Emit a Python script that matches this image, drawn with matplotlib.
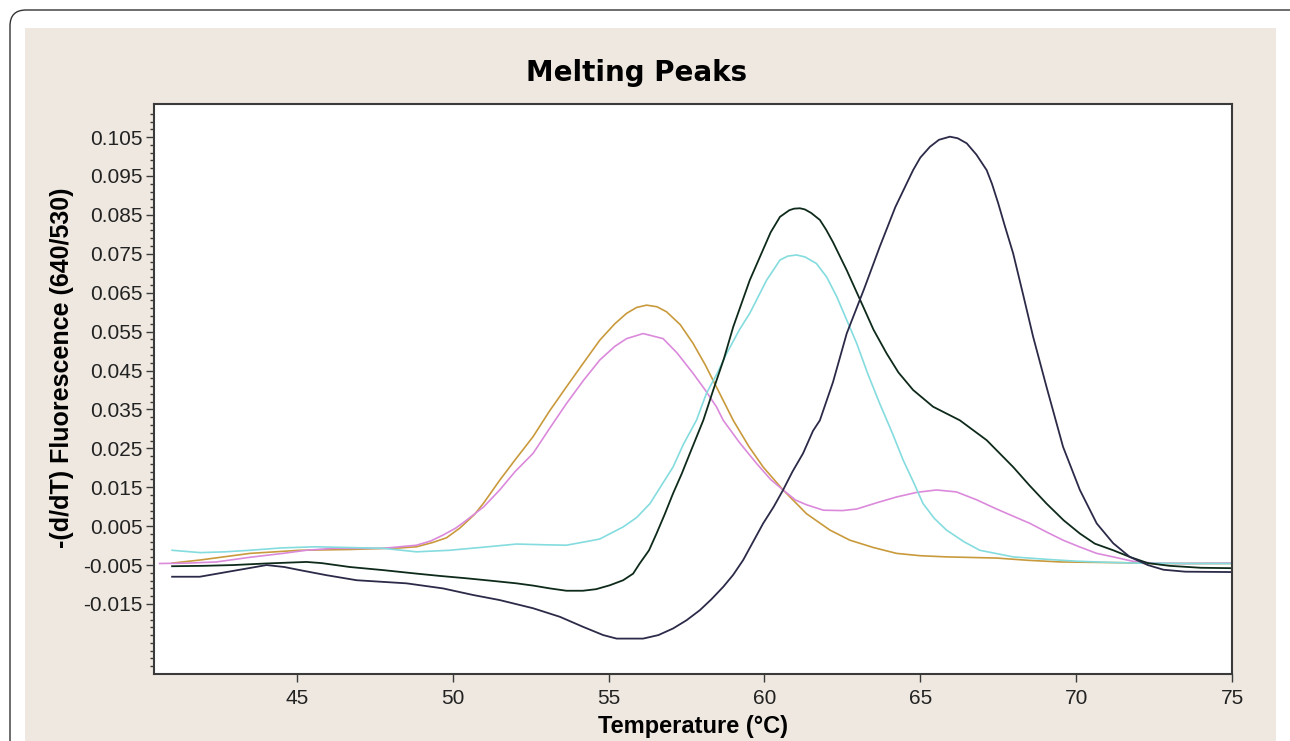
import numpy as np
import matplotlib
matplotlib.use('Agg')
import matplotlib.pyplot as plt
from matplotlib.patches import FancyBboxPatch, Rectangle
from matplotlib.ticker import FixedLocator

plt.rcParams['font.family'] = ['Liberation Sans', 'DejaVu Sans']

# melting peak curves: temperature (C) / -(d/dT) fluorescence
amber_t = [41.0, 41.9, 43.5, 45.1, 46.7, 48.3, 48.84, 49.36, 49.8, 50.23, 50.7, 51.0,
           51.51, 52.0, 52.58, 53.1, 53.65, 54.2, 54.72, 55.2, 55.58, 55.9, 56.22,
           56.55, 56.86, 57.3, 57.71, 58.1, 58.46, 59.0, 59.5, 59.96, 60.6, 61.35,
           62.1, 62.74, 63.5, 64.24, 65.0, 65.84, 67.45, 68.5, 69.5, 70.5, 71.5, 72.5, 75.0]
amber_y = [-0.0045, -0.0037, -0.0020, -0.0012, -0.0010, -0.0006, -0.0003, 0.0008, 0.0020,
           0.0045, 0.0080, 0.0110, 0.0168, 0.0220, 0.0280, 0.0345, 0.0408, 0.0470, 0.0528,
           0.0570, 0.0597, 0.0612, 0.0618, 0.0614, 0.0601, 0.0568, 0.0520, 0.0465, 0.0408,
           0.0322, 0.0255, 0.0202, 0.0143, 0.0082, 0.0040, 0.0014, -0.0005, -0.0020,
           -0.0026, -0.0029, -0.0032, -0.0038, -0.0042, -0.0043, -0.0044, -0.0046, -0.0046]

violet_t = [40.6, 41.5, 42.42, 43.5, 44.56, 45.3, 46.17, 47.77, 48.84, 49.3, 49.69, 50.1,
            50.44, 51.0, 51.51, 52.0, 52.58, 53.1, 53.65, 54.2, 54.72, 55.2, 55.58, 56.11,
            56.75, 57.2, 57.71, 58.1, 58.46, 58.68, 59.2, 59.75, 60.2, 60.6, 61.0, 61.35,
            61.89, 62.5, 62.96, 63.6, 64.24, 64.9, 65.52, 66.16, 66.8, 67.45, 68.0, 68.52,
            69.05, 69.58, 70.1, 70.66, 71.19, 71.8, 72.5, 73.5, 75.0]
violet_y = [-0.0046, -0.0045, -0.0042, -0.0030, -0.0020, -0.0012, -0.0007, -0.0007, 0.0001,
            0.0012, 0.0027, 0.0045, 0.0065, 0.0100, 0.0143, 0.0190, 0.0237, 0.0300, 0.0365,
            0.0425, 0.0477, 0.0512, 0.0532, 0.0545, 0.0532, 0.0495, 0.0443, 0.0400, 0.0357,
            0.0322, 0.0265, 0.0211, 0.0170, 0.0143, 0.0117, 0.0105, 0.0091, 0.0090, 0.0094,
            0.0110, 0.0125, 0.0137, 0.0143, 0.0138, 0.0118, 0.0094, 0.0075, 0.0057, 0.0035,
            0.0014, -0.0003, -0.0020, -0.0029, -0.0040, -0.0045, -0.0046, -0.0045]

cyan_t = [41.0, 41.9, 42.7, 43.5, 44.5, 45.6, 46.7, 47.77, 48.84, 49.9, 51.0, 52.05, 53.0,
          53.65, 54.4, 54.72, 55.47, 55.9, 56.33, 56.7, 57.07, 57.4, 57.82, 58.14, 58.5,
          58.79, 59.2, 59.53, 60.07, 60.5, 60.75, 61.03, 61.3, 61.67, 62.0, 62.32, 62.64,
          62.96, 63.3, 63.7, 64.1, 64.45, 64.8, 65.09, 65.45, 65.84, 66.4, 66.91, 67.98,
          69.0, 70.0, 71.0, 72.0, 73.5, 75.0]
cyan_y = [-0.0012, -0.0018, -0.0016, -0.0012, -0.0006, -0.0003, -0.0005, -0.0007, -0.0016,
          -0.0012, -0.0004, 0.0004, 0.0002, 0.0001, 0.0012, 0.0017, 0.0048, 0.0072, 0.0108,
          0.0155, 0.0202, 0.0260, 0.0322, 0.0391, 0.0445, 0.0494, 0.0555, 0.0597, 0.0682,
          0.0734, 0.0744, 0.0747, 0.0742, 0.0725, 0.0690, 0.0640, 0.0580, 0.0520, 0.0445,
          0.0365, 0.0290, 0.0220, 0.0160, 0.0108, 0.0070, 0.0040, 0.0010, -0.0012, -0.0029,
          -0.0035, -0.0040, -0.0043, -0.0045, -0.0046, -0.0046]

green_t = [41.0, 42.0, 42.96, 44.0, 45.31, 45.8, 46.7, 47.77, 48.84, 49.6, 50.44, 51.2,
           52.05, 52.6, 53.12, 53.65, 54.18, 54.6, 55.04, 55.47, 55.79, 56.0, 56.3, 56.54,
           56.8, 57.07, 57.35, 57.61, 58.04, 58.36, 58.7, 59.0, 59.3, 59.53, 59.9, 60.2,
           60.5, 60.8, 60.95, 61.14, 61.3, 61.5, 61.78, 61.98, 62.2, 62.64, 63.17, 63.5,
           63.92, 64.3, 64.77, 65.41, 66.27, 67.13, 67.98, 68.5, 69.05, 69.6, 70.12, 70.6,
           71.19, 71.72, 72.3, 73.0, 74.0, 75.0]
green_y = [-0.0053, -0.0052, -0.0050, -0.0046, -0.0042, -0.0045, -0.0055, -0.0063, -0.0072,
           -0.0078, -0.0084, -0.0090, -0.0097, -0.0103, -0.0110, -0.0116, -0.0116, -0.0112,
           -0.0102, -0.0089, -0.0072, -0.0046, -0.0012, 0.0031, 0.0080, 0.0134, 0.0185,
           0.0237, 0.0322, 0.0400, 0.0480, 0.0562, 0.0630, 0.0682, 0.0750, 0.0805, 0.0845,
           0.0862, 0.0866, 0.0867, 0.0864, 0.0855, 0.0837, 0.0812, 0.0780, 0.0708, 0.0614,
           0.0555, 0.0494, 0.0445, 0.0400, 0.0357, 0.0322, 0.0271, 0.0202, 0.0155, 0.0108,
           0.0065, 0.0031, 0.0005, -0.0012, -0.0029, -0.0045, -0.0052, -0.0057, -0.0058]

navy_t = [41.0, 41.89, 42.6, 43.39, 44.03, 44.6, 45.1, 45.95, 46.92, 48.52, 49.69, 50.66,
          51.51, 52.58, 53.44, 54.19, 54.83, 55.26, 56.11, 56.6, 57.07, 57.5, 57.93, 58.3,
          58.68, 59.0, 59.32, 59.64, 59.96, 60.3, 60.6, 60.9, 61.24, 61.56, 61.78, 62.2,
          62.64, 63.2, 63.7, 64.2, 64.77, 65.0, 65.31, 65.6, 65.95, 66.2, 66.49, 66.8,
          67.13, 67.3, 67.5, 67.7, 67.98, 68.3, 68.62, 69.05, 69.58, 70.12, 70.66, 71.19,
          71.72, 72.3, 72.8, 73.5, 75.0]
navy_y = [-0.0080, -0.0080, -0.0070, -0.0059, -0.0050, -0.0055, -0.0063, -0.0076, -0.0089,
          -0.0097, -0.0110, -0.0127, -0.0140, -0.0161, -0.0183, -0.0209, -0.0230, -0.0239,
          -0.0239, -0.0230, -0.0213, -0.0192, -0.0166, -0.0138, -0.0106, -0.0075, -0.0037,
          0.0010, 0.0057, 0.0100, 0.0143, 0.0190, 0.0237, 0.0295, 0.0322, 0.0420, 0.0545,
          0.0660, 0.0768, 0.0870, 0.0965, 0.0997, 0.1025, 0.1043, 0.1051, 0.1047, 0.1034,
          0.1005, 0.0965, 0.0930, 0.0880, 0.0825, 0.0751, 0.0645, 0.0537, 0.0408, 0.0254,
          0.0143, 0.0057, 0.0006, -0.0029, -0.0050, -0.0062, -0.0067, -0.0068]

xticks = [45, 50, 55, 60, 65, 70, 75]
yticks = [0.105, 0.095, 0.085, 0.075, 0.065, 0.055, 0.045, 0.035, 0.025, 0.015, 0.005,
          -0.005, -0.015]
ytick_labels = ['0.105', '0.095', '0.085', '0.075', '0.065', '0.055', '0.045', '0.035',
                '0.025', '0.015', '0.005', '-0.005', '-0.015']

W, H = 1290, 741
fig = plt.figure(figsize=(W / 100, H / 100), dpi=100)

# window frame + beige panel, drawn in pixel units
bg = fig.add_axes([0, 0, 1, 1])
bg.set_xlim(0, W)
bg.set_ylim(H, 0)
bg.axis('off')
bg.add_patch(FancyBboxPatch((10, 10), 1320, 780, boxstyle='round,pad=0,rounding_size=16',
                            fc='white', ec='#333333', lw=1))
bg.add_patch(Rectangle((25, 28), 1251, 730, fc='#EEE8E0', ec='none'))

ax = fig.add_axes([154 / W, 1 - 674 / H, 1078 / W, 570 / H])
ax.set_facecolor('white')

ax.plot(amber_t, amber_y, color='#C99A3C', lw=1.2)
ax.plot(violet_t, violet_y, color='#DB8ADB', lw=1.2)
ax.plot(cyan_t, cyan_y, color='#84DCDE', lw=1.2)
ax.plot(green_t, green_y, color='#0E2A1A', lw=1.3)
ax.plot(navy_t, navy_y, color='#2B2A48', lw=1.3)

ax.set_xlim(40.42, 75)
ax.set_ylim(-0.033, 0.1135)
ax.set_xticks(xticks)
ax.set_xticklabels([str(t) for t in xticks])
ax.set_yticks(yticks)
ax.set_yticklabels(ytick_labels)
ax.yaxis.set_minor_locator(FixedLocator(np.round(np.arange(-0.031, 0.112, 0.002), 3)))

for s in ax.spines.values():
    s.set_color('#3A3A3A')
    s.set_linewidth(1.5)

ax.tick_params(axis='both', which='major', direction='out', length=6, width=1,
               color='#3A3A3A', labelsize=15, labelcolor='#222222')
ax.tick_params(axis='y', which='major', pad=2)
ax.tick_params(axis='x', which='major', pad=5)
ax.tick_params(axis='y', which='minor', direction='out', length=3, width=1, color='#3A3A3A')

fig.text(637 / W, 1 - 73 / H, 'Melting Peaks', ha='center', va='center',
         fontsize=20, fontweight='bold', family=['DejaVu Sans'])
fig.text(693 / W, 1 - 727 / H, 'Temperature (\u00b0C)', ha='center', va='center',
         fontsize=17, fontweight='bold')
fig.text(62 / W, 1 - 368 / H, '-(d/dT) Fluorescence (640/530)', ha='center', va='center',
         rotation=90, fontsize=18, fontweight='bold')

fig.savefig('out.png', dpi=100)
